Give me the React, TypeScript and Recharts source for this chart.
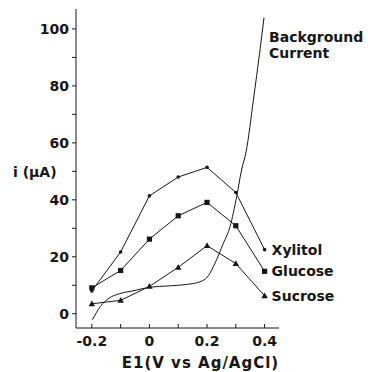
import { LabelList, Line, LineChart, XAxis, YAxis } from 'recharts'

// potentials in V vs Ag/AgCl
const potentials = [-0.2, -0.1, 0, 0.1, 0.2, 0.3, 0.4]
const xylitol = [8, 21.7, 41.4, 48, 51.4, 42.6, 22.5]
const glucose = [9.1, 15.2, 26.2, 34.4, 39.1, 30.9, 14.9]
const sucrose = [3.5, 4.7, 9.6, 16.3, 23.9, 17.6, 6.3]

// background current trace, sampled along the curve
const bgPotential = [-0.198, -0.17, -0.14, -0.105, -0.05, 0, 0.07, 0.13, 0.175, 0.205, 0.228, 0.257, 0.28, 0.303, 0.32, 0.336, 0.361, 0.384, 0.398]
const bgCurrent = [-2.1, 2.6, 5.5, 7, 8.2, 9.3, 9.8, 10.3, 11.2, 13.4, 17.8, 24.8, 30.6, 41.2, 50.5, 57, 75, 92.6, 104]

const xTicks = [-0.2, -0.1, 0, 0.1, 0.2, 0.3, 0.4]
const xLabeled = [-0.2, 0, 0.2, 0.4]
const yTicks = [0, 10, 20, 30, 40, 50, 60, 70, 80, 90, 100]
const yLabeled = [0, 20, 40, 60, 80, 100]

const INK = '#161616'
const FONT = '"DejaVu Sans", sans-serif'

const toRows = (xs: number[], ys: number[]) => xs.map((x, i) => ({ x, y: ys[i] }))

const xyData = toRows(potentials, xylitol)
const glData = toRows(potentials, glucose)
const suData = toRows(potentials, sucrose)
const bgData = toRows(bgPotential, bgCurrent)

const DotMark = (props: any) => <circle key={props.index} cx={props.cx} cy={props.cy} r={1.8} fill={INK} />
const SquareMark = (props: any) => <rect key={props.index} x={props.cx - 2.6} y={props.cy - 2.6} width={5.2} height={5.2} fill={INK} />
const TriangleMark = (props: any) => (
  <path key={props.index} d={`M${props.cx},${props.cy - 3.4} L${props.cx + 3.2},${props.cy + 2.4} L${props.cx - 3.2},${props.cy + 2.4} Z`} fill={INK} />
)

const XTick = ({ x, y, payload }: any) => (
  <g>
    <line x1={x} x2={x} y1={y} y2={y - 4} stroke={INK} strokeWidth={1} />
    {xLabeled.some((v) => Math.abs(v - payload.value) < 1e-6) && (
      <text x={x} y={y + 18} textAnchor="middle" fontFamily={FONT} fontWeight="bold" fontSize={14} fill={INK}>
        {payload.value === 0 ? '0' : payload.value.toFixed(1)}
      </text>
    )}
  </g>
)

const YTick = ({ x, y, payload }: any) => (
  <g>
    <line x1={x} x2={x - 4} y1={y} y2={y} stroke={INK} strokeWidth={1} />
    {yLabeled.includes(payload.value) && (
      <text x={x - 7} y={y + 5} textAnchor="end" fontFamily={FONT} fontWeight="bold" fontSize={14} fill={INK}>
        {payload.value}
      </text>
    )}
  </g>
)

const endLabel = (name: string, last: number) => (props: any) => {
  if (props.index !== last) return null
  return (
    <text x={props.x + 7} y={props.y + 5} fontFamily={FONT} fontWeight="bold" fontSize={14} fill={INK}>
      {name}
    </text>
  )
}

const bgLabel = (props: any) => {
  if (props.index !== bgData.length - 1) return null
  return (
    <text x={props.x + 5} y={props.y + 24} fontFamily={FONT} fontWeight="bold" fontSize={14} fill={INK}>
      <tspan x={props.x + 5}>Background</tspan>
      <tspan x={props.x + 5} dy={16}>Current</tspan>
    </text>
  )
}

export default function App() {
  return (
    <div style={{ position: 'absolute', left: 0, top: 0, width: 368, height: 372, background: '#fff' }}>
      <LineChart width={368} height={372} margin={{ top: 9, right: 89, bottom: 0, left: 16 }}>
        <XAxis
          dataKey="x"
          type="number"
          domain={[-0.255, 0.45]}
          ticks={xTicks}
          interval={0}
          height={44}
          tickSize={0}
          tickMargin={0}
          tickLine={false}
          tick={XTick}
          stroke={INK}
          allowDataOverflow
          label={{
            content: ({ viewBox }: any) => (
              <text x={viewBox.x + viewBox.width / 2 + 23} y={viewBox.y + 40} textAnchor="middle" fontFamily={FONT} fontWeight="bold" fontSize={15} letterSpacing={1} fill={INK}>
                E1(V vs Ag/AgCl)
              </text>
            )
          }}
        />
        <YAxis
          type="number"
          domain={[-5, 107]}
          ticks={yTicks}
          interval={0}
          width={60}
          tickSize={0}
          tickMargin={0}
          tickLine={false}
          tick={YTick}
          stroke={INK}
          allowDataOverflow
          label={{
            content: ({ viewBox }: any) => (
              <text x={viewBox.x - 3} y={viewBox.y + 168} fontFamily={FONT} fontWeight="bold" fontSize={14} fill={INK}>
                i (μA)
              </text>
            )
          }}
        />
        <Line data={bgData} dataKey="y" type="monotone" stroke={INK} strokeWidth={1} dot={false} isAnimationActive={false}>
          <LabelList dataKey="y" content={bgLabel} />
        </Line>
        <Line data={xyData} dataKey="y" type="linear" stroke={INK} strokeWidth={1} dot={DotMark} isAnimationActive={false}>
          <LabelList dataKey="y" content={endLabel('Xylitol', xyData.length - 1)} />
        </Line>
        <Line data={glData} dataKey="y" type="linear" stroke={INK} strokeWidth={1} dot={SquareMark} isAnimationActive={false}>
          <LabelList dataKey="y" content={endLabel('Glucose', glData.length - 1)} />
        </Line>
        <Line data={suData} dataKey="y" type="linear" stroke={INK} strokeWidth={1} dot={TriangleMark} isAnimationActive={false}>
          <LabelList dataKey="y" content={endLabel('Sucrose', suData.length - 1)} />
        </Line>
      </LineChart>
    </div>
  )
}
